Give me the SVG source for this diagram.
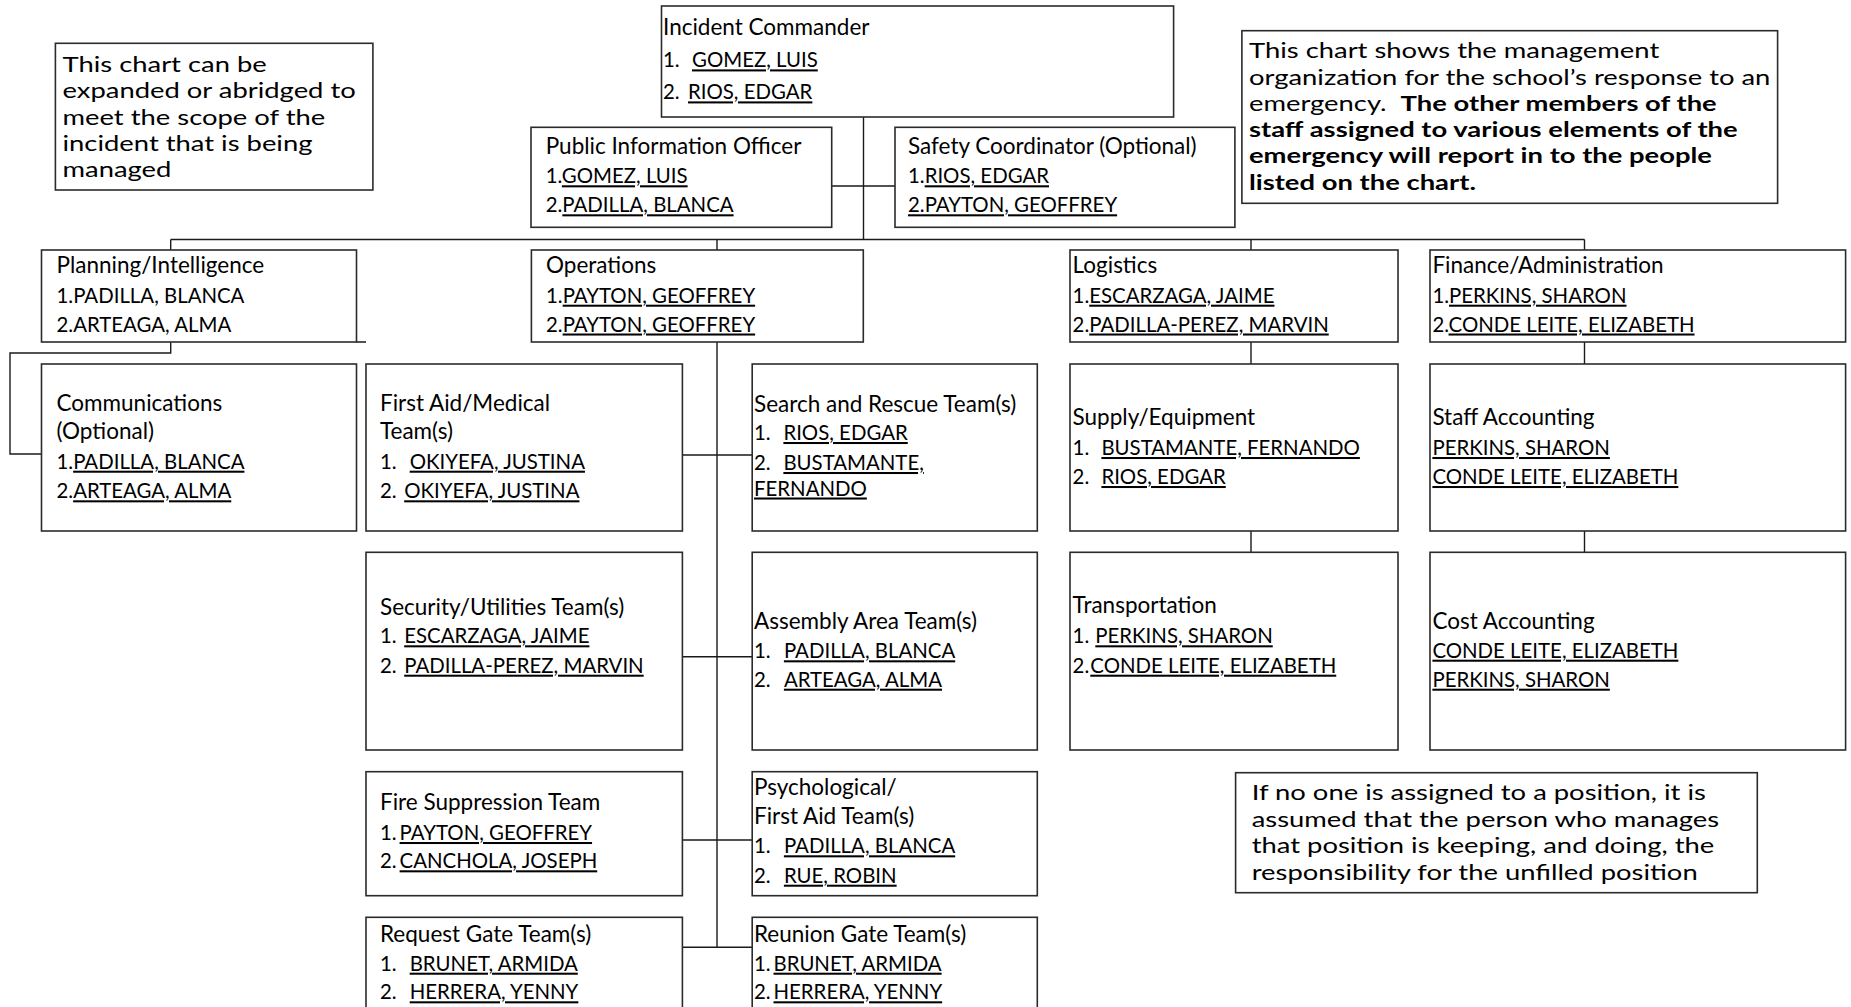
<svg xmlns="http://www.w3.org/2000/svg" width="1851" height="1007" viewBox="0 0 1851 1007">
<style>
.box{fill:#fff;stroke:#2b2b2b;stroke-width:1.6}
.c{fill:none;stroke:#1a1a1a;stroke-width:1.4}
text{font-family:Lato,"Liberation Sans",sans-serif;font-size:22.5px;fill:#000}
.k{font-size:20.4px}
.n{font-size:21.8px}
.u{text-decoration:underline}
.b{font-weight:bold}
</style>
<rect width="1851" height="1007" fill="#fff"/>
<g id="connectors">
<path class="c" d="M863.5 117V239.5M831.7 186H895M170.7 239.5H1584.5M170.7 239.5V250M717 239.5V250M1251 239.5V250M1584.5 239.5V250"/>
<path class="c" d="M170.7 342V353H10V454H41.5M356.5 342H366"/>
<path class="c" d="M717 342V947.3M682.4 455H752.2M682.4 656.7H752.2M682.4 840H752.2M682.4 947.3H752.2"/>
<path class="c" d="M1251 342V364M1251 531V552.3M1584.5 342V364M1584.5 531V552.3"/>
</g>
<g id="note-left">
<rect class="box" x="55.4" y="43.3" width="317.5" height="146.7"/>
<g transform="matrix(1.257 0 0 1 -16.06 0)">
<text class="n" x="62.5" y="72">This chart can be</text>
<text class="n" x="62.5" y="98.3">expanded or abridged to</text>
<text class="n" x="62.5" y="124.6">meet the scope of the</text>
<text class="n" x="62.5" y="150.9">incident that is being</text>
<text class="n" x="62.5" y="177.2">managed</text>
</g>
</g>
<g id="note-right">
<rect class="box" x="1241.9" y="30.7" width="535.7" height="172.6"/>
<g transform="matrix(1.257 0 0 1 -321 0)">
<text class="n" x="1249" y="58.3">This chart shows the management</text>
<text class="n" x="1249" y="84.6">organization for the school’s response to an</text>
<text class="n" x="1249" y="110.9" xml:space="preserve">emergency.  <tspan class="b">The other members of the</tspan></text>
<text class="n b" x="1249" y="137.2">staff assigned to various elements of the</text>
<text class="n b" x="1249" y="163.5">emergency will report in to the people</text>
<text class="n b" x="1249" y="189.8">listed on the chart.</text>
</g>
</g>
<g id="note-bottom">
<rect class="box" x="1235.6" y="772.7" width="521.7" height="120"/>
<g transform="matrix(1.257 0 0 1 -321.7 0)">
<text class="n" x="1251.7" y="800">If no one is assigned to a position, it is</text>
<text class="n" x="1251.7" y="826.7">assumed that the person who manages</text>
<text class="n" x="1251.7" y="853.3">that position is keeping, and doing, the</text>
<text class="n" x="1251.7" y="880">responsibility for the unfilled position</text>
</g>
</g>
<g id="incident-commander">
<rect class="box" x="661.5" y="6" width="512.1" height="111"/>
<text x="663" y="35.4">Incident Commander</text>
<text class="k" x="663" y="67.4">1.<tspan class="u" x="692">GOMEZ, LUIS</tspan></text>
<text class="k" x="663" y="99.4">2.<tspan class="u" x="688">RIOS, EDGAR</tspan></text>
</g>
<g id="public-information-officer">
<rect class="box" x="531" y="127.3" width="300.7" height="100"/>
<text x="545.7" y="154.3">Public Information Officer</text>
<text class="k" x="545.7" y="183.3">1.<tspan class="u">GOMEZ, LUIS</tspan></text>
<text class="k" x="545.7" y="212.3">2.<tspan class="u">PADILLA, BLANCA</tspan></text>
</g>
<g id="safety-coordinator">
<rect class="box" x="895" y="127.3" width="339.9" height="100"/>
<text x="908" y="154.3">Safety Coordinator (Optional)</text>
<text class="k" x="908" y="183.3">1.<tspan class="u">RIOS, EDGAR</tspan></text>
<text class="k u" x="908" y="212.3">2.PAYTON, GEOFFREY</text>
</g>
<g id="planning-intelligence">
<rect class="box" x="41.5" y="250" width="315" height="92"/>
<text x="56.5" y="273">Planning/Intelligence</text>
<text class="k" x="56.5" y="302.7">1.PADILLA, BLANCA</text>
<text class="k" x="56.5" y="331.5">2.ARTEAGA, ALMA</text>
</g>
<g id="operations">
<rect class="box" x="531.4" y="250" width="331.9" height="92"/>
<text x="546" y="273">Operations</text>
<text class="k" x="546" y="302.7">1.<tspan class="u">PAYTON, GEOFFREY</tspan></text>
<text class="k" x="546" y="331.5">2.<tspan class="u">PAYTON, GEOFFREY</tspan></text>
</g>
<g id="logistics">
<rect class="box" x="1070" y="250" width="328" height="92"/>
<text x="1072.6" y="273">Logistics</text>
<text class="k" x="1072.6" y="302.7">1.<tspan class="u">ESCARZAGA, JAIME</tspan></text>
<text class="k" x="1072.6" y="331.5">2.<tspan class="u">PADILLA-PEREZ, MARVIN</tspan></text>
</g>
<g id="finance-administration">
<rect class="box" x="1430" y="250" width="415.6" height="92"/>
<text x="1432.4" y="273">Finance/Administration</text>
<text class="k" x="1432.4" y="302.7">1.<tspan class="u">PERKINS, SHARON</tspan></text>
<text class="k" x="1432.4" y="331.5">2.<tspan class="u">CONDE LEITE, ELIZABETH</tspan></text>
</g>
<g id="communications">
<rect class="box" x="41.5" y="364" width="315" height="167"/>
<text x="56.5" y="410.7">Communications</text>
<text x="56.5" y="439.3">(Optional)</text>
<text class="k" x="56.5" y="468.7">1.<tspan class="u">PADILLA, BLANCA</tspan></text>
<text class="k" x="56.5" y="498.3">2.<tspan class="u">ARTEAGA, ALMA</tspan></text>
</g>
<g id="first-aid-medical">
<rect class="box" x="366" y="364" width="316.4" height="167"/>
<text x="380" y="410.7">First Aid/Medical</text>
<text x="380" y="439.3">Team(s)</text>
<text class="k" x="380" y="468.7">1.<tspan class="u" x="409.7">OKIYEFA, JUSTINA</tspan></text>
<text class="k" x="380" y="498.3">2.<tspan class="u" x="404.2">OKIYEFA, JUSTINA</tspan></text>
</g>
<g id="search-and-rescue">
<rect class="box" x="752.2" y="364" width="285.1" height="167"/>
<text x="754" y="411.7">Search and Rescue Team(s)</text>
<text class="k" x="754" y="440">1.<tspan class="u" x="783.4">RIOS, EDGAR</tspan></text>
<text class="k" x="754" y="470">2.<tspan class="u" x="783.4">BUSTAMANTE,</tspan></text>
<text class="k u" x="754" y="495.5">FERNANDO</text>
</g>
<g id="supply-equipment">
<rect class="box" x="1070" y="364" width="328" height="167"/>
<text x="1072.6" y="425">Supply/Equipment</text>
<text class="k" x="1072.6" y="455">1.<tspan class="u" x="1101.4">BUSTAMANTE, FERNANDO</tspan></text>
<text class="k" x="1072.6" y="484">2.<tspan class="u" x="1101.4">RIOS, EDGAR</tspan></text>
</g>
<g id="staff-accounting">
<rect class="box" x="1430" y="364" width="415.6" height="167"/>
<text x="1432.4" y="425">Staff Accounting</text>
<text class="k u" x="1432.4" y="455">PERKINS, SHARON</text>
<text class="k u" x="1432.4" y="484">CONDE LEITE, ELIZABETH</text>
</g>
<g id="security-utilities">
<rect class="box" x="366" y="552.3" width="316.4" height="197.7"/>
<text x="380" y="615">Security/Utilities Team(s)</text>
<text class="k" x="380" y="643.3">1.<tspan class="u" x="404.2">ESCARZAGA, JAIME</tspan></text>
<text class="k" x="380" y="672.7">2.<tspan class="u" x="404.2">PADILLA-PEREZ, MARVIN</tspan></text>
</g>
<g id="assembly-area">
<rect class="box" x="752.2" y="552.3" width="285.1" height="197.7"/>
<text x="754" y="629.3">Assembly Area Team(s)</text>
<text class="k" x="754" y="658.3">1.<tspan class="u" x="783.9">PADILLA, BLANCA</tspan></text>
<text class="k" x="754" y="686.7">2.<tspan class="u" x="783.9">ARTEAGA, ALMA</tspan></text>
</g>
<g id="transportation">
<rect class="box" x="1070" y="552.3" width="328" height="197.7"/>
<text x="1072.6" y="613.3">Transportation</text>
<text class="k" x="1072.6" y="643.3">1.<tspan class="u" x="1095.3">PERKINS, SHARON</tspan></text>
<text class="k" x="1072.6" y="672.7">2.<tspan class="u" x="1090.3">CONDE LEITE, ELIZABETH</tspan></text>
</g>
<g id="cost-accounting">
<rect class="box" x="1430" y="552.3" width="415.6" height="197.7"/>
<text x="1432.4" y="629">Cost Accounting</text>
<text class="k u" x="1432.4" y="657.7">CONDE LEITE, ELIZABETH</text>
<text class="k u" x="1432.4" y="686.7">PERKINS, SHARON</text>
</g>
<g id="fire-suppression">
<rect class="box" x="366" y="771.7" width="316.4" height="124"/>
<text x="380" y="810">Fire Suppression Team</text>
<text class="k" x="380" y="840">1.<tspan class="u" x="399.6">PAYTON, GEOFFREY</tspan></text>
<text class="k" x="380" y="868.3">2.<tspan class="u" x="399.6">CANCHOLA, JOSEPH</tspan></text>
</g>
<g id="psychological-first-aid">
<rect class="box" x="752.2" y="771.7" width="285.1" height="124"/>
<text x="754" y="795">Psychological/</text>
<text x="754" y="824">First Aid Team(s)</text>
<text class="k" x="754" y="853.3">1.<tspan class="u" x="783.9">PADILLA, BLANCA</tspan></text>
<text class="k" x="754" y="882.7">2.<tspan class="u" x="783.9">RUE, ROBIN</tspan></text>
</g>
<g id="request-gate">
<rect class="box" x="366" y="917.3" width="316.4" height="100"/>
<text x="380" y="941.7">Request Gate Team(s)</text>
<text class="k" x="380" y="970.7">1.<tspan class="u" x="409.7">BRUNET, ARMIDA</tspan></text>
<text class="k" x="380" y="999.3">2.<tspan class="u" x="409.7">HERRERA, YENNY</tspan></text>
</g>
<g id="reunion-gate">
<rect class="box" x="752.2" y="917.3" width="285.1" height="100"/>
<text x="754" y="941.7">Reunion Gate Team(s)</text>
<text class="k" x="754" y="970.7">1.<tspan class="u" x="773.5">BRUNET, ARMIDA</tspan></text>
<text class="k" x="754" y="999.3">2.<tspan class="u" x="773.5">HERRERA, YENNY</tspan></text>
</g>
</svg>
